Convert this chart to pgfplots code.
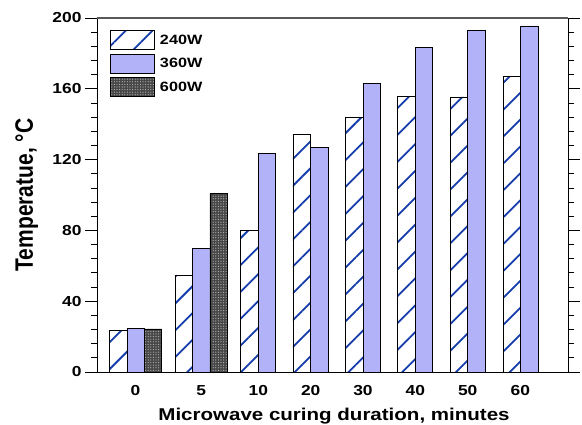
\documentclass[border=0pt]{standalone}
\usepackage{pgfplots}
\pgfplotsset{compat=1.18}
\usepackage{fontspec}
\setmainfont[FakeStretch=1.2]{Liberation Sans}
\newfontfamily\yfont[FakeStretch=0.833]{Liberation Sans}
\usetikzlibrary{patterns.meta}
\definecolor{hatchblue}{RGB}{20,60,170}
\definecolor{lav}{RGB}{178,178,248}
\begin{document}
\begin{tikzpicture}
\useasboundingbox (0pt,0pt) rectangle (582pt,425pt);
\begin{axis}[
  at={(97pt,53pt)}, anchor=south west,
  scale only axis, width=471pt, height=354pt,
  xmin=97, xmax=568, ymin=0, ymax=200,
  xtick={135.5,201.3,258.3,310.7,363,415.3,467.7,520.3},
  xticklabels={0,5,10,20,30,40,50,60},
  xtick style={draw=none},
  ytick={0,40,...,200}, minor y tick num=4,
  ytick pos=both, yticklabel pos=left,
  tick align=outside, major tick length=12pt, minor tick length=6pt,
  tick style={black, line width=0.8pt},
  axis line style={line width=0.9pt},
  /pgf/number format/assume math mode=true,
  tick label style={font=\bfseries\fontsize{14.5}{14.5}\selectfont},
  xticklabel style={anchor=base, yshift=-11.7pt},
  ylabel={Temperatue, °C},
  xlabel={Microwave curing duration, minutes},
  every axis y label/.style={at={(axis description cs:0,0.5)}, xshift=-64pt, rotate=90, anchor=base,
    font=\yfont\bfseries\fontsize{25.2}{25.2}\selectfont},
  every axis x label/.style={at={(axis description cs:0.5,0)}, xshift=1.5pt, yshift=-49pt, anchor=base,
    font=\bfseries\fontsize{17.1}{17.1}\selectfont},
  legend style={at={(axis description cs:0,1)}, anchor=north west, xshift=13pt, yshift=-12pt,
    draw=none, fill=none, font=\bfseries\fontsize{13.5}{13.5}\selectfont, row sep=3.5pt, column sep=3pt, inner sep=0pt},
  legend cell align=left,
  mybar/.style={ybar, bar width=17.4, bar shift=0pt, draw=black, line width=0.8pt,
    legend image code/.code={\draw[##1] (0pt,-9.6pt) rectangle (44pt,9.6pt);}},
]
\addplot[mybar, fill=white, postaction={pattern={Lines[angle=45,distance=19pt,line width=1.8pt]}, pattern color=hatchblue}]
  coordinates {(118.3,23.3) (184.2,54.8) (249.5,80.2) (301.7,134.5) (354.2,143.9) (406.5,155.8) (459,155.4) (511.7,167.2)};
\addlegendentry{240W}
\addplot[mybar, fill=lav]
  coordinates {(135.9,24.7) (201.4,69.9) (267,123.5) (319.5,126.9) (371.7,163.1) (424,183.2) (476.5,193) (529.2,195.5)};
\addlegendentry{360W}
\addplot[mybar, fill=black!72, postaction={pattern={Dots[distance=2.6pt,radius=0.6pt]}, pattern color=gray!55}]
  coordinates {(153,24.3) (218.7,101)};
\addlegendentry{600W}
\draw[line width=2pt, black!65] (rel axis cs:0,1) -- (rel axis cs:1,1);
\end{axis}
\end{tikzpicture}
\end{document}
